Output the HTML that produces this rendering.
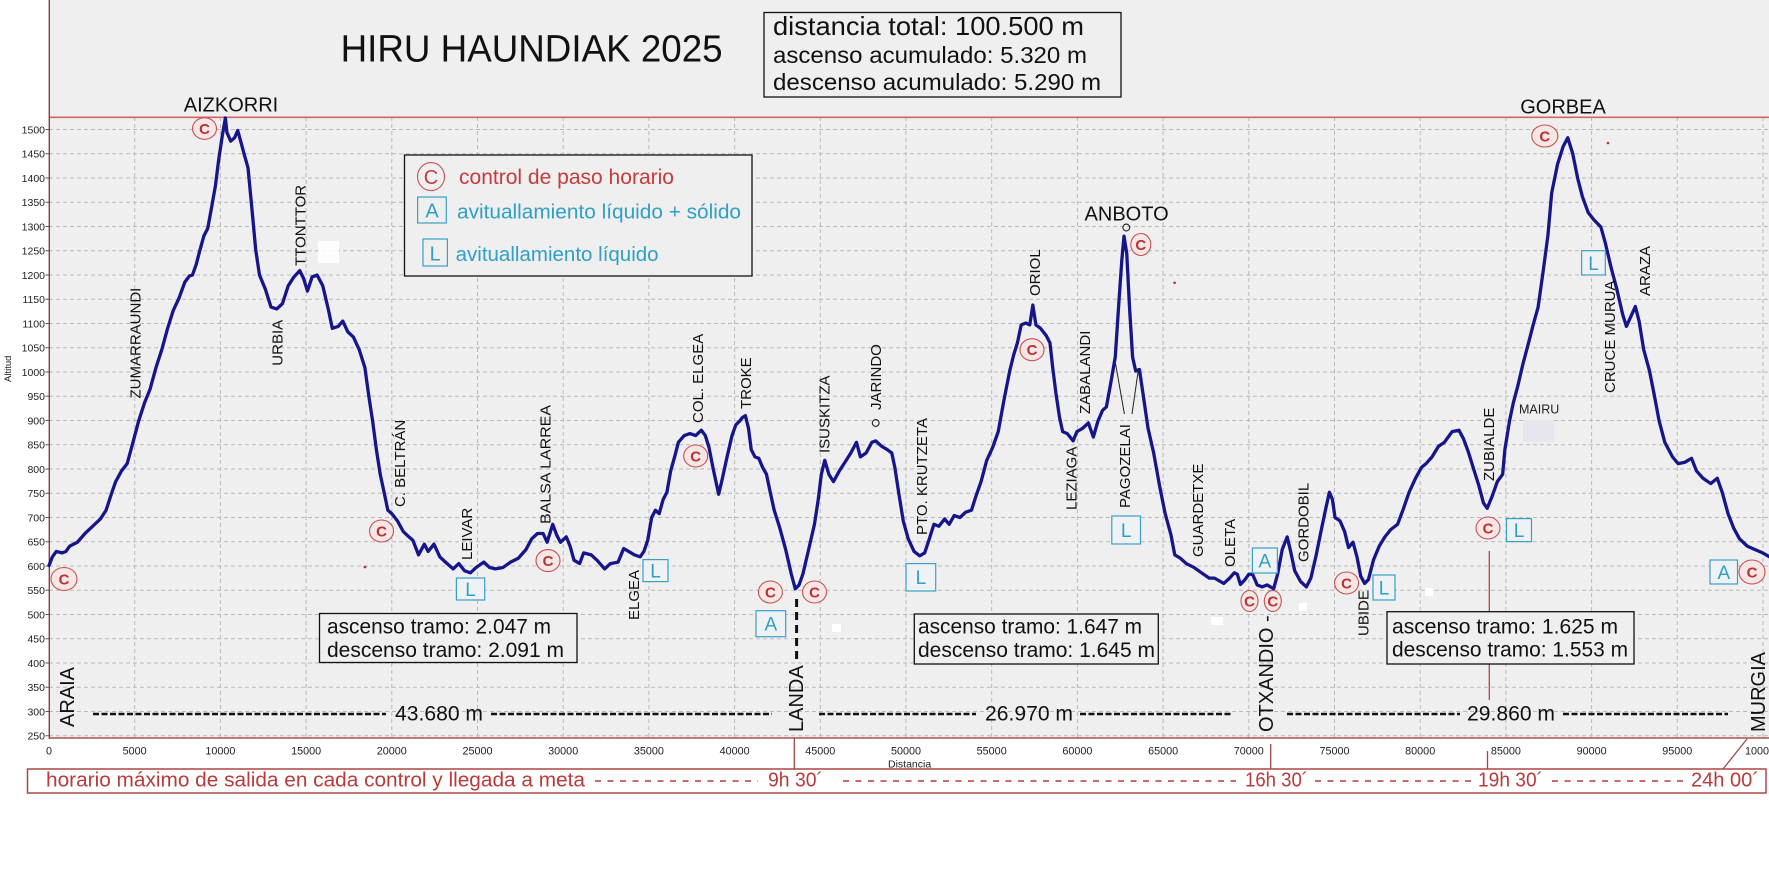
<!DOCTYPE html>
<html><head><meta charset="utf-8">
<style>
html,body{margin:0;padding:0;background:#fff;}
svg{display:block;}
text{font-family:"Liberation Sans",Arial,sans-serif;}
</style></head>
<body>
<svg width="1769" height="890" viewBox="0 0 1769 890" xmlns="http://www.w3.org/2000/svg">
<rect x="0" y="0" width="1769" height="890" fill="#ffffff"/>
<rect x="49" y="0" width="1720" height="738" fill="#efefef"/>

<!-- grid -->
<g stroke="#b9b9b9" stroke-width="1" stroke-dasharray="4,3" fill="none">
<path d="M49 129.5H1769M49 153.75H1769M49 178H1769M49 202.25H1769M49 226.5H1769M49 250.75H1769M49 275H1769M49 299.25H1769M49 323.5H1769M49 347.75H1769M49 372H1769M49 396.25H1769M49 420.5H1769M49 444.75H1769M49 469H1769M49 493.25H1769M49 517.5H1769M49 541.75H1769M49 566H1769M49 590.25H1769M49 614.5H1769M49 638.75H1769M49 663H1769M49 687.25H1769M49 711.5H1769M49 735.75H1769"/>
<path d="M134.7 117V738M220.4 117V738M306.1 117V738M391.8 117V738M477.5 117V738M563.2 117V738M648.9 117V738M734.6 117V738M820.3 117V738M906 117V738M991.7 117V738M1077.4 117V738M1163.1 117V738M1248.8 117V738M1334.5 117V738M1420.2 117V738M1505.9 117V738M1591.6 117V738M1677.3 117V738M1763 117V738"/>
</g>

<!-- top red line & axes -->
<line x1="49" y1="117.3" x2="1769" y2="117.3" stroke="#d26464" stroke-width="1.6"/>
<line x1="49.3" y1="0" x2="49.3" y2="739" stroke="#8c3c3c" stroke-width="1.4"/>
<line x1="49" y1="738" x2="1769" y2="738" stroke="#a85050" stroke-width="1.4"/>

<!-- y tick labels -->
<g font-size="10.5" fill="#222" text-anchor="end">
<text x="45" y="133.3">1500</text><text x="45" y="157.6">1450</text><text x="45" y="181.8">1400</text><text x="45" y="206">1350</text><text x="45" y="230.3">1300</text><text x="45" y="254.6">1250</text><text x="45" y="278.8">1200</text><text x="45" y="303">1150</text><text x="45" y="327.3">1100</text><text x="45" y="351.6">1050</text><text x="45" y="375.8">1000</text><text x="45" y="400">950</text><text x="45" y="424.3">900</text><text x="45" y="448.6">850</text><text x="45" y="472.8">800</text><text x="45" y="497">750</text><text x="45" y="521.3">700</text><text x="45" y="545.6">650</text><text x="45" y="569.8">600</text><text x="45" y="594">550</text><text x="45" y="618.3">500</text><text x="45" y="642.6">450</text><text x="45" y="666.8">400</text><text x="45" y="691">350</text><text x="45" y="715.3">300</text><text x="45" y="739.5">250</text>
</g>
<g stroke="#555" stroke-width="1">
<path d="M45.5 129.5H49M45.5 153.75H49M45.5 178H49M45.5 202.25H49M45.5 226.5H49M45.5 250.75H49M45.5 275H49M45.5 299.25H49M45.5 323.5H49M45.5 347.75H49M45.5 372H49M45.5 396.25H49M45.5 420.5H49M45.5 444.75H49M45.5 469H49M45.5 493.25H49M45.5 517.5H49M45.5 541.75H49M45.5 566H49M45.5 590.25H49M45.5 614.5H49M45.5 638.75H49M45.5 663H49M45.5 687.25H49M45.5 711.5H49M45.5 735.75H49"/>
</g>
<text transform="translate(11,382) rotate(-90)" font-size="9.5" fill="#222">Altitud</text>

<!-- x tick labels -->
<g font-size="10.8" fill="#222" text-anchor="middle">
<text x="49" y="754.5">0</text><text x="134.7" y="754.5">5000</text><text x="220.4" y="754.5">10000</text><text x="306.1" y="754.5">15000</text><text x="391.8" y="754.5">20000</text><text x="477.5" y="754.5">25000</text><text x="563.2" y="754.5">30000</text><text x="648.9" y="754.5">35000</text><text x="734.6" y="754.5">40000</text><text x="820.3" y="754.5">45000</text><text x="906" y="754.5">50000</text><text x="991.7" y="754.5">55000</text><text x="1077.4" y="754.5">60000</text><text x="1163.1" y="754.5">65000</text><text x="1248.8" y="754.5">70000</text><text x="1334.5" y="754.5">75000</text><text x="1420.2" y="754.5">80000</text><text x="1505.9" y="754.5">85000</text><text x="1591.6" y="754.5">90000</text><text x="1677.3" y="754.5">95000</text><text x="1763" y="754.5">100000</text>
</g>
<text x="888" y="767.5" font-size="10.5" fill="#222">Distancia</text>

<!-- white patches -->
<g fill="#ffffff">
<rect x="318" y="241" width="21" height="22" opacity="0.85"/>
<rect x="832" y="624" width="9" height="8"/>
<rect x="1211" y="617" width="12" height="8"/>
<rect x="1299" y="603" width="8" height="8"/>
<rect x="1425" y="588" width="8" height="8"/>
</g>
<rect x="1523" y="420" width="31" height="22" fill="#e6e6ef"/>

<!-- Zubialde red line -->
<line x1="1489.3" y1="551" x2="1489.3" y2="700" stroke="#b84040" stroke-width="1.3"/>

<!-- Landa dashed vertical -->
<line x1="796.6" y1="599" x2="796.6" y2="664" stroke="#111" stroke-width="3" stroke-dasharray="8,5"/>

<!-- profile -->
<path transform="matrix(0.01714 0 0 -0.485 49 857)" vector-effect="non-scaling-stroke" fill="none" stroke="#16168a" stroke-width="3.3" stroke-linejoin="round" stroke-linecap="round"
d="M0 601 L200 619 L425 630 L760 627 L985 630 L1210 641 L1655 649 L2100 667 L2550 682 L3000 697 L3330 715 L3670 752 L3890 774 L4230 796 L4560 811 L4900 855 L5230 899 L5570 936 L5900 965 L6240 1009 L6580 1046 L6920 1090 L7250 1127 L7580 1152 L7920 1185 L8190 1198 L8370 1200 L8590 1222 L8810 1252 L9040 1281 L9260 1296 L9490 1340 L9710 1384 L9890 1435 L10110 1487 L10290 1524 L10380 1494 L10600 1476 L10830 1483 L11010 1498 L11160 1479 L11380 1450 L11610 1421 L11830 1340 L12060 1252 L12280 1200 L12620 1171 L12950 1134 L13290 1130 L13620 1141 L13960 1178 L14290 1196 L14630 1209 L14850 1193 L15080 1167 L15350 1196 L15640 1200 L15970 1178 L16310 1127 L16530 1090 L16870 1094 L17140 1105 L17430 1083 L17760 1072 L18100 1046 L18430 1009 L18660 950 L18880 899 L19100 840 L19330 788 L19550 752 L19770 715 L20000 708 L20330 693 L20670 671 L21000 660 L21230 653 L21560 623 L21900 645 L22120 630 L22460 645 L22800 619 L23130 608 L23580 594 L23910 605 L24250 590 L24590 586 L24920 597 L25370 608 L25700 597 L26040 594 L26490 597 L26930 608 L27380 616 L27830 634 L28160 656 L28500 667 L28830 667 L29060 649 L29390 686 L29620 664 L29840 649 L30180 660 L30400 641 L30630 612 L30960 605 L31190 627 L31630 623 L31970 612 L32420 594 L32750 605 L33200 608 L33530 636 L33820 630 L34150 623 L34490 619 L34710 630 L34930 653 L35160 700 L35380 715 L35600 708 L35830 737 L36050 752 L36270 796 L36500 825 L36720 855 L37060 869 L37390 873 L37730 869 L38060 880 L38290 869 L38510 844 L38730 804 L39070 748 L39290 781 L39560 825 L39850 869 L40070 891 L40300 899 L40450 906 L40630 910 L40810 884 L40970 840 L41190 825 L41410 822 L41640 803 L41860 789 L42080 752 L42310 715 L42640 678 L42980 634 L43310 583 L43540 553 L43760 561 L43980 583 L44320 634 L44660 686 L44880 737 L45060 789 L45260 818 L45500 789 L45770 774 L46110 796 L46440 814 L46780 833 L47110 855 L47340 825 L47670 833 L48010 855 L48230 858 L48570 847 L48900 840 L49170 833 L49350 803 L49570 752 L49840 693 L50130 656 L50470 630 L50800 621 L51090 627 L51360 656 L51630 686 L51920 682 L52250 697 L52520 686 L52810 704 L53150 700 L53480 711 L53820 715 L54080 744 L54380 774 L54710 818 L55050 844 L55380 877 L55720 943 L56050 1002 L56280 1035 L56500 1060 L56720 1097 L56990 1101 L57220 1097 L57400 1138 L57580 1097 L57850 1090 L58180 1075 L58400 1060 L58560 1009 L58740 958 L58960 906 L59140 877 L59410 873 L59750 858 L59970 877 L60310 884 L60640 895 L60930 866 L61200 899 L61470 921 L61690 928 L61920 972 L62210 1031 L62430 1149 L62590 1230 L62720 1280 L62880 1244 L63040 1134 L63220 1031 L63400 1002 L63620 1005 L63850 950 L64120 884 L64450 833 L64790 766 L65120 708 L65460 664 L65680 623 L66010 616 L66350 605 L66800 597 L67240 586 L67690 575 L68000 575 L68540 564 L68880 575 L69150 586 L69330 583 L69510 562 L69780 572 L70000 583 L70220 583 L70490 561 L70780 557 L71070 561 L71450 553 L71680 583 L71950 634 L72240 660 L72460 627 L72680 590 L73020 568 L73360 557 L73620 575 L73910 619 L74250 678 L74470 715 L74700 752 L74880 737 L75030 700 L75320 693 L75590 671 L75820 638 L76080 649 L76310 619 L76530 579 L76760 564 L76980 572 L77270 612 L77610 641 L77940 660 L78280 675 L78680 686 L78990 715 L79350 752 L79730 781 L80070 803 L80340 811 L80690 825 L81070 847 L81410 855 L81860 877 L82260 880 L82530 862 L82800 836 L83090 803 L83420 766 L83690 730 L83910 719 L84200 744 L84500 774 L84810 789 L84940 840 L85210 899 L85430 936 L85700 972 L85990 1016 L86320 1060 L86590 1097 L86880 1134 L87170 1207 L87450 1281 L87670 1369 L88010 1428 L88340 1465 L88610 1483 L88900 1450 L89190 1399 L89460 1362 L89800 1329 L90130 1314 L90540 1299 L90800 1266 L91140 1215 L91470 1171 L91810 1119 L92030 1094 L92260 1112 L92550 1135 L92770 1105 L93040 1046 L93380 1002 L93670 950 L93940 899 L94270 855 L94720 825 L95050 811 L95450 814 L95830 822 L96120 796 L96500 781 L96950 770 L97330 781 L97620 752 L97960 708 L98290 678 L98630 656 L99080 641 L99520 634 L99980 627 L100380 619"/>

<!-- Pagozelai V lines -->
<g stroke="#222" stroke-width="1">
<line x1="1115.6" y1="364" x2="1124.4" y2="414"/>
<line x1="1138.6" y1="368" x2="1132" y2="414"/>
</g>

<!-- small circles -->
<circle cx="875.7" cy="423" r="3.4" fill="none" stroke="#222" stroke-width="1.1"/>
<circle cx="1126.3" cy="227.5" r="3.4" fill="none" stroke="#222" stroke-width="1.1"/>

<!-- red dots -->
<g fill="#c03030"><circle cx="365" cy="567" r="1.4"/><circle cx="1174.6" cy="282.8" r="1.3"/><circle cx="1608" cy="143" r="1.3"/></g>

<!-- C markers -->
<g stroke="#c85050" stroke-width="1.1" fill="#f6e6e6">
<ellipse cx="64" cy="579" rx="13" ry="11.5"/>
<ellipse cx="204.5" cy="128.5" rx="12" ry="10.8"/>
<ellipse cx="381.5" cy="531" rx="12" ry="11"/>
<ellipse cx="548" cy="560.6" rx="12" ry="11"/>
<ellipse cx="695.7" cy="456" rx="12" ry="11"/>
<ellipse cx="770.4" cy="592" rx="12" ry="11"/>
<ellipse cx="814.5" cy="592" rx="12" ry="11"/>
<ellipse cx="1032" cy="349.7" rx="12" ry="11"/>
<ellipse cx="1140.8" cy="244.5" rx="10" ry="11"/>
<ellipse cx="1249.5" cy="601" rx="8.5" ry="10.5"/>
<ellipse cx="1272.8" cy="601" rx="8.5" ry="10.5"/>
<ellipse cx="1346.6" cy="583" rx="12" ry="11"/>
<ellipse cx="1488" cy="528" rx="12" ry="11"/>
<ellipse cx="1544.8" cy="136" rx="13" ry="11"/>
<ellipse cx="1752" cy="572" rx="13" ry="12"/>
</g>
<g font-size="15" font-weight="bold" fill="#b83232" text-anchor="middle">
<text x="64" y="584.5">C</text>
<text x="204.5" y="134">C</text>
<text x="381.5" y="536.5">C</text>
<text x="548" y="566">C</text>
<text x="695.7" y="461.5">C</text>
<text x="770.4" y="597.5">C</text>
<text x="814.5" y="597.5">C</text>
<text x="1032" y="355">C</text>
<text x="1140.8" y="250">C</text>
<text x="1249.5" y="606.5">C</text>
<text x="1272.8" y="606.5">C</text>
<text x="1346.6" y="588.5">C</text>
<text x="1488" y="533.5">C</text>
<text x="1544.8" y="141.5">C</text>
<text x="1752" y="577.5">C</text>
</g>

<!-- A / L markers -->
<g stroke="#3aa0c6" stroke-width="1.2" fill="#eef2f4">
<rect x="756" y="610.7" width="29.7" height="26"/>
<rect x="1252.4" y="548" width="25" height="25"/>
<rect x="1710" y="560" width="27.5" height="24"/>
<rect x="456.4" y="578" width="28.3" height="22"/>
<rect x="643" y="559.6" width="25" height="22"/>
<rect x="906" y="563.6" width="29.7" height="27.4"/>
<rect x="1111.8" y="516" width="28.7" height="28"/>
<rect x="1373" y="575" width="22" height="25"/>
<rect x="1506.5" y="518.6" width="25" height="23"/>
<rect x="1581.6" y="250.7" width="23.7" height="24.3"/>
</g>
<g font-size="19" fill="#2f9fc6" text-anchor="middle">
<text x="770.9" y="630.5">A</text>
<text x="1264.9" y="567.5">A</text>
<text x="1723.8" y="579">A</text>
<text x="470.5" y="596">L</text>
<text x="655.5" y="577.5">L</text>
<text x="920.9" y="584">L</text>
<text x="1126.2" y="537">L</text>
<text x="1384" y="594.5">L</text>
<text x="1519" y="537">L</text>
<text x="1593.5" y="270">L</text>
</g>

<!-- rotated labels 15px -->
<g font-size="15" fill="#111">
<text transform="translate(140.4,398.5) rotate(-90)">ZUMARRAUNDI</text>
<text transform="translate(282.4,365.7) rotate(-90)">URBIA</text>
<text transform="translate(305.4,266) rotate(-90)">TTONTTOR</text>
<text transform="translate(405,507) rotate(-90)">C. BELTRÁN</text>
<text transform="translate(472,560) rotate(-90)">LEIVAR</text>
<text transform="translate(550.4,524) rotate(-90)" textLength="119" lengthAdjust="spacingAndGlyphs">BALSA LARREA</text>
<text transform="translate(639,620) rotate(-90)">ELGEA</text>
<text transform="translate(703,423) rotate(-90)">COL. ELGEA</text>
<text transform="translate(750.8,409) rotate(-90)">TROKE</text>
<text transform="translate(829.4,453) rotate(-90)">ISUSKITZA</text>
<text transform="translate(881,410) rotate(-90)">JARINDO</text>
<text transform="translate(927,535) rotate(-90)">PTO. KRUTZETA</text>
<text transform="translate(1040,296) rotate(-90)">ORIOL</text>
<text transform="translate(1076.4,510) rotate(-90)">LEZIAGA</text>
<text transform="translate(1089.8,414) rotate(-90)">ZABALANDI</text>
<text transform="translate(1130,508) rotate(-90)">PAGOZELAI</text>
<text transform="translate(1203,557) rotate(-90)">GUARDETXE</text>
<text transform="translate(1235,567) rotate(-90)">OLETA</text>
<text transform="translate(1308.4,562) rotate(-90)">GORDOBIL</text>
<text transform="translate(1368.4,636) rotate(-90)">UBIDE</text>
<text transform="translate(1493.8,481) rotate(-90)">ZUBIALDE</text>
<text transform="translate(1614.8,393) rotate(-90)">CRUCE MURUA</text>
<text transform="translate(1650,296) rotate(-90)">ARAZA</text>
</g>
<text x="1519" y="413.5" font-size="12.5" fill="#222">MAIRU</text>

<!-- rotated 20px labels -->
<g font-size="20" fill="#111">
<text transform="translate(74.2,727) rotate(-90)">ARAIA</text>
<text transform="translate(803.2,732) rotate(-90)">LANDA</text>
<text transform="translate(1273,732) rotate(-90)">OTXANDIO -</text>
<text transform="translate(1765,732) rotate(-90)">MURGIA</text>
</g>

<!-- peak names -->
<g font-size="20" fill="#111" text-anchor="middle">
<text x="231" y="111.5">AIZKORRI</text>
<text x="1126.6" y="220.5">ANBOTO</text>
<text x="1563" y="113.5">GORBEA</text>
</g>

<!-- distance dashed lines -->
<g stroke="#111" stroke-width="2.6" stroke-dasharray="6,2.5">
<line x1="93" y1="714" x2="386" y2="714"/>
<line x1="491" y1="714" x2="772" y2="714"/>
<line x1="819" y1="714" x2="976" y2="714"/>
<line x1="1080" y1="714" x2="1232" y2="714"/>
<line x1="1287" y1="714" x2="1460" y2="714"/>
<line x1="1563" y1="714" x2="1728" y2="714"/>
</g>
<g font-size="21" fill="#111">
<text x="395" y="720.5" textLength="88" lengthAdjust="spacingAndGlyphs">43.680 m</text>
<text x="985" y="720.5" textLength="88" lengthAdjust="spacingAndGlyphs">26.970 m</text>
<text x="1467" y="720.5" textLength="88" lengthAdjust="spacingAndGlyphs">29.860 m</text>
</g>

<!-- ascenso boxes -->
<g fill="#efefef" stroke="#111" stroke-width="1.3">
<rect x="319.5" y="613.5" width="257.5" height="49"/>
<rect x="914.3" y="614" width="244" height="50"/>
<rect x="1387" y="611.7" width="247" height="52.3"/>
</g>
<g font-size="21" fill="#111">
<text x="327" y="633.5" textLength="224" lengthAdjust="spacingAndGlyphs">ascenso tramo: 2.047 m</text>
<text x="327" y="657" textLength="237" lengthAdjust="spacingAndGlyphs">descenso tramo: 2.091 m</text>
<text x="918" y="633.5" textLength="224" lengthAdjust="spacingAndGlyphs">ascenso tramo: 1.647 m</text>
<text x="918" y="657" textLength="237" lengthAdjust="spacingAndGlyphs">descenso tramo: 1.645 m</text>
<text x="1392" y="633.3" textLength="226" lengthAdjust="spacingAndGlyphs">ascenso tramo: 1.625 m</text>
<text x="1392" y="656.7" textLength="236" lengthAdjust="spacingAndGlyphs">descenso tramo: 1.553 m</text>
</g>

<!-- legend -->
<rect x="404.5" y="155" width="347.5" height="121" fill="#efefef" stroke="#111" stroke-width="1.3"/>
<ellipse cx="431" cy="176.6" rx="13.5" ry="14" fill="none" stroke="#c85050" stroke-width="1.1"/>
<text x="431" y="184" font-size="20" fill="#c43c3c" text-anchor="middle">C</text>
<text x="459" y="184" font-size="21" fill="#c43c3c" textLength="215" lengthAdjust="spacingAndGlyphs">control de paso horario</text>
<rect x="417.6" y="197" width="28.7" height="26" fill="none" stroke="#3aa0c6" stroke-width="1.2"/>
<text x="432" y="217.5" font-size="20" fill="#2f9fc6" text-anchor="middle">A</text>
<text x="457" y="218.5" font-size="20.5" fill="#2f9fc6" textLength="284" lengthAdjust="spacingAndGlyphs">avituallamiento líquido + sólido</text>
<rect x="423" y="239" width="24.4" height="27" fill="none" stroke="#3aa0c6" stroke-width="1.2"/>
<text x="435.2" y="260.5" font-size="20" fill="#2f9fc6" text-anchor="middle">L</text>
<text x="455.6" y="261" font-size="20.5" fill="#2f9fc6" textLength="203" lengthAdjust="spacingAndGlyphs">avituallamiento líquido</text>

<!-- title -->
<text x="340.6" y="61.5" font-size="38" fill="#111" textLength="382" lengthAdjust="spacingAndGlyphs">HIRU HAUNDIAK 2025</text>

<!-- top info box -->
<rect x="764" y="12.5" width="357" height="84.5" fill="#efefef" stroke="#111" stroke-width="1.3"/>
<g fill="#111">
<text x="773" y="35" font-size="26" textLength="311" lengthAdjust="spacingAndGlyphs">distancia total: 100.500 m</text>
<text x="773" y="63" font-size="23.5" textLength="314" lengthAdjust="spacingAndGlyphs">ascenso acumulado: 5.320 m</text>
<text x="773" y="90" font-size="23.5" textLength="328" lengthAdjust="spacingAndGlyphs">descenso acumulado: 5.290 m</text>
</g>

<!-- connector lines below axis -->
<g stroke="#a04848" stroke-width="1.3">
<line x1="794.3" y1="738" x2="794.3" y2="769"/>
<line x1="1270.7" y1="744" x2="1270.7" y2="769"/>
<line x1="1487.5" y1="751" x2="1487.5" y2="769"/>
<line x1="1723" y1="769" x2="1747" y2="739"/>
</g>

<!-- horario box -->
<rect x="27.5" y="769" width="1738.5" height="24" fill="#ffffff" stroke="#b04545" stroke-width="1.5"/>
<g fill="#b83a3a" font-size="20">
<text x="46" y="786.5" textLength="539" lengthAdjust="spacingAndGlyphs">horario máximo de salida en cada control y llegada a meta</text>
<text x="768" y="786.5" textLength="55" lengthAdjust="spacingAndGlyphs">9h 30´</text>
<text x="1245" y="786.5" textLength="63" lengthAdjust="spacingAndGlyphs">16h 30´</text>
<text x="1478" y="786.5" textLength="65" lengthAdjust="spacingAndGlyphs">19h 30´</text>
<text x="1691" y="786.5" textLength="68" lengthAdjust="spacingAndGlyphs">24h 00´</text>
</g>
<g stroke="#b83a3a" stroke-width="1.6" stroke-dasharray="6,6.5">
<line x1="595" y1="781" x2="758" y2="781"/>
<line x1="843" y1="781" x2="1236" y2="781"/>
<line x1="1315" y1="781" x2="1472" y2="781"/>
<line x1="1552" y1="781" x2="1686" y2="781"/>
</g>
</svg>
</body></html>
